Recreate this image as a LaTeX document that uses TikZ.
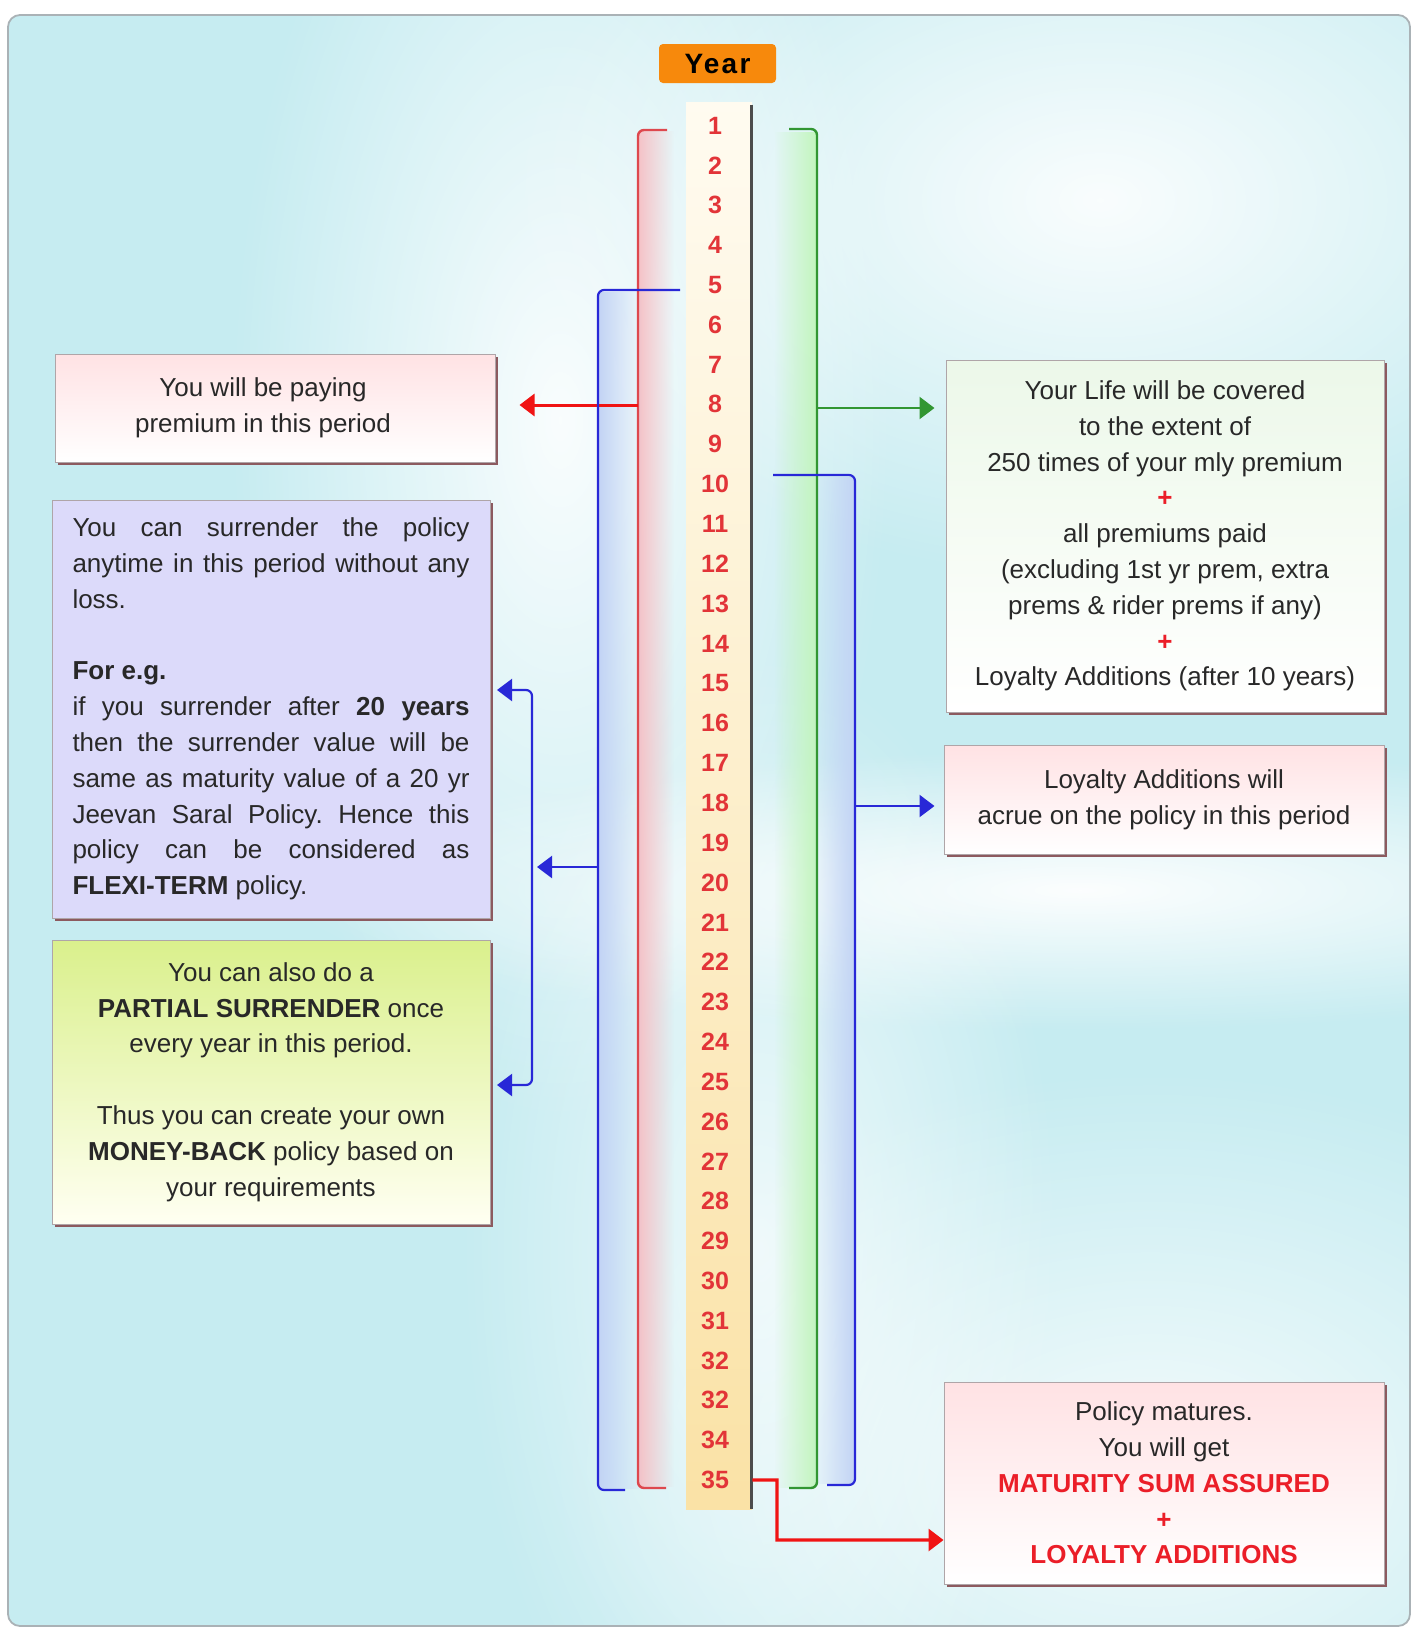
\documentclass[tikz,border=0pt]{standalone}
\usepackage{fontspec}
\setmainfont{Liberation Sans}
\usetikzlibrary{arrows.meta,shadows,fadings,calc}
\setlength{\parindent}{0pt}
\frenchspacing
\definecolor{bgc}{RGB}{198,236,241}
\definecolor{frame}{RGB}{170,178,182}
\definecolor{yearor}{RGB}{247,137,12}
\definecolor{numred}{RGB}{226,52,56}
\definecolor{brred}{RGB}{222,72,78}
\definecolor{arred}{RGB}{240,20,20}
\definecolor{brblue}{RGB}{40,40,215}
\definecolor{brgreen}{RGB}{50,150,50}
\definecolor{txt}{RGB}{40,40,40}
\definecolor{shad}{RGB}{140,90,95}
\definecolor{boxedge}{RGB}{175,165,168}
\definecolor{pinktop}{RGB}{255,226,228}
\definecolor{lav}{RGB}{220,218,250}
\definecolor{ygtop}{RGB}{218,240,140}
\definecolor{ygbot}{RGB}{255,255,242}
\definecolor{lgtop}{RGB}{236,248,233}
\definecolor{coltop}{RGB}{255,251,240}
\definecolor{colbot}{RGB}{250,226,166}
\definecolor{plusred}{RGB}{235,30,40}
\definecolor{stpink}{RGB}{245,195,200}
\definecolor{stblue}{RGB}{195,212,245}
\definecolor{stgreen}{RGB}{195,245,190}
\tikzfading[name=fadeR, left color=transparent!0, right color=transparent!100]
\tikzfading[name=fadeL, left color=transparent!100, right color=transparent!0]
\tikzfading[name=softblob, inner color=transparent!0, outer color=transparent!100]
\newcommand\redplus{\textcolor{plusred}{\textbf{+}}}
\tikzset{
  box/.style={draw=boxedge, line width=0.5pt, inner sep=0pt, text=txt, align=center,
     font=\fontsize{13}{17.9}\selectfont,
     drop shadow={shadow xshift=1.3pt, shadow yshift=-1.3pt, fill=shad, opacity=1}},
  pinkbox/.style={box, top color=pinktop, bottom color=white},
  lavbox/.style={box, fill=lav},
  ygbox/.style={box, top color=ygtop, bottom color=ygbot},
  lgbox/.style={box, top color=lgtop, bottom color=white},
  numtxt/.style={font=\bfseries\fontsize{12.5}{14}\selectfont, text=numred, inner sep=0pt},
  redbr/.style={draw=brred, line width=1.2pt, rounded corners=3pt},
  greenbr/.style={draw=brgreen, line width=1.2pt, rounded corners=3pt},
  bluebr/.style={draw=brblue, line width=1.1pt, rounded corners=3pt},
  tipr/.style={-{Triangle[length=7.5pt,width=11pt]}},
  redarr/.style={draw=arred, line width=1.5pt, tipr},
  greenarr/.style={draw=brgreen, line width=1.2pt, tipr},
  bluearr/.style={draw=brblue, line width=1.1pt, tipr},
  blob/.style={fill=white, path fading=softblob}
}
\begin{document}
\begin{tikzpicture}[x=0.5pt,y=-0.5pt]
\useasboundingbox (0,0) rectangle (1413,1629);
% background
\fill[white] (0,0) rectangle (1413,1629);
\fill[bgc, rounded corners=6pt] (8,15) rectangle (1410,1626);
\begin{scope}
\clip[rounded corners=6pt] (8,15) rectangle (1410,1626);
\fill[blob, opacity=0.9] (560,420) ellipse (330 and 700);
\fill[blob, opacity=0.9] (1100,200) ellipse (600 and 380);
\fill[blob, opacity=0.95] (1080,890) ellipse (800 and 140);
\fill[blob, opacity=0.8] (1150,1470) ellipse (600 and 400);
\fill[blob, opacity=0.7] (760,1250) ellipse (300 and 600);
\end{scope}
\draw[frame, line width=0.9pt, rounded corners=6pt] (8,15) rectangle (1410,1626);

% fade strips
\fill[stpink, path fading=fadeR] (639,131) rectangle (674,1487);
\fill[stblue, path fading=fadeR] (599,291) rectangle (642,1489);
\fill[stgreen, path fading=fadeL] (774,130) rectangle (816,1487);
\fill[stblue, path fading=fadeL] (812,476) rectangle (854,1484);

% year label and column
\node[fill=yearor, rounded corners=2pt, minimum width=58.5pt, minimum height=19.5pt, inner sep=0pt,
      font=\bfseries\fontsize{14}{16}\selectfont\addfontfeature{LetterSpace=8}] (year) at (717.5,63.5) {Year};
\node[top color=coltop, bottom color=colbot, minimum width=33pt, minimum height=703.5pt, inner sep=0pt] (col) at (719,805.5) {};
\draw[gray!60!black, line width=1.1pt] ($(col.north east)+(-1,3)$) -- ($(col.south east)+(-1,0)$);
\foreach \lab [count=\i] in {1,2,3,4,5,6,7,8,9,10,11,12,13,14,15,16,17,18,19,20,21,22,23,24,25,26,27,28,29,30,31,32,32,34,35}
  \node[numtxt] (n\i) at (715,{125.5+(\i-1)*39.84}) {\lab};

% boxes
\node[pinkbox, minimum width=220pt, minimum height=54pt] (pay) at (275,408)
  {You will be paying\hspace*{12pt}\\ premium in this period\hspace*{12pt}};
\node[lavbox, minimum width=219pt, minimum height=209pt, text width=198.5pt, inner xsep=10.25pt, align=justify] (surr) at (271,709)
  {You can surrender the policy\linebreak anytime in this period without any\linebreak loss.\par
   \vspace{17.9pt}
   \textbf{For e.g.}\par
   if you surrender after \textbf{20 years}\linebreak then the surrender value will be\linebreak same as maturity value of a 20 yr\linebreak Jeevan Saral Policy. Hence this\linebreak policy can be considered as\linebreak \textbf{FLEXI-TERM} policy.};
\node[ygbox, minimum width=219pt, minimum height=142pt] (part) at (271,1082)
  {You can also do a\\ \textbf{PARTIAL SURRENDER} once\\ every year in this period.\\[17.9pt] Thus you can create your own\\ \textbf{MONEY-BACK} policy based on\\ your requirements};
\node[lgbox, minimum width=219pt, minimum height=176pt] (life) at (1165,536)
  {Your Life will be covered\\ to the extent of\\ 250 times of your mly premium\\ \redplus\\ all premiums paid\\ (excluding 1st yr prem, extra\\ prems \& rider prems if any)\\ \redplus\\ Loyalty Additions (after 10 years)};
\node[pinkbox, minimum width=220pt, minimum height=54.5pt] (loy) at (1164,799.5)
  {Loyalty Additions will\\ acrue on the policy in this period};
\node[pinkbox, minimum width=220pt, minimum height=101pt] (mat) at (1164,1483)
  {Policy matures.\\ You will get\\ \textcolor{plusred}{\textbf{MATURITY SUM ASSURED}}\\ \redplus\\ \textcolor{plusred}{\textbf{LOYALTY ADDITIONS}}};

% red bracket (premium period)
\coordinate (rTop) at (667,130);
\coordinate (rBot) at (666,1488);
\draw[redbr] (rTop) -- (638,130) -- (638,1488) -- (rBot);
\coordinate (r8) at (638,405);
\draw[redarr, shorten >=12pt] (r8) -- (r8 -| pay.east);

% green bracket (life cover)
\coordinate (gTop) at (789,129);
\coordinate (gBot) at (789,1488);
\draw[greenbr] (gTop) -- (817,129) -- (817,1488) -- (gBot);
\coordinate (g8) at (817,408);
\draw[greenarr, shorten >=5.5pt] (g8) -- (g8 -| life.west);

% blue left bracket (surrender)
\coordinate (blTop) at (680,290);
\coordinate (blBot) at (625,1490);
\draw[bluebr] (blTop) -- (598,290) -- (598,1490) -- (blBot);
\coordinate (bl) at (598,867);
\coordinate (bv) at (532,867);
\draw[bluearr, shorten >=2.5pt] (bl) -- (bv);
\coordinate (sTip) at (497,690);
\coordinate (pTip) at (497,1085);
\draw[bluebr, {Triangle[length=7.5pt,width=11pt]}-{Triangle[length=7.5pt,width=11pt]}] (sTip) -- (532,690) -- (532,1085) -- (pTip);

% blue right bracket (loyalty)
\coordinate (brTop) at (773,475);
\coordinate (brBot) at (827,1485);
\draw[bluebr] (brTop) -- (855,475) -- (855,1485) -- (brBot);
\coordinate (b18) at (855,806);
\draw[bluearr, shorten >=4.5pt] (b18) -- (b18 -| loy.west);

% maturity connector
\coordinate (mc) at (777,1540);
\draw[redarr, line width=1.6pt] (n35 -| col.east) -- (777,1480) -- (mc) -- (mc -| mat.west);
\end{tikzpicture}
\end{document}
